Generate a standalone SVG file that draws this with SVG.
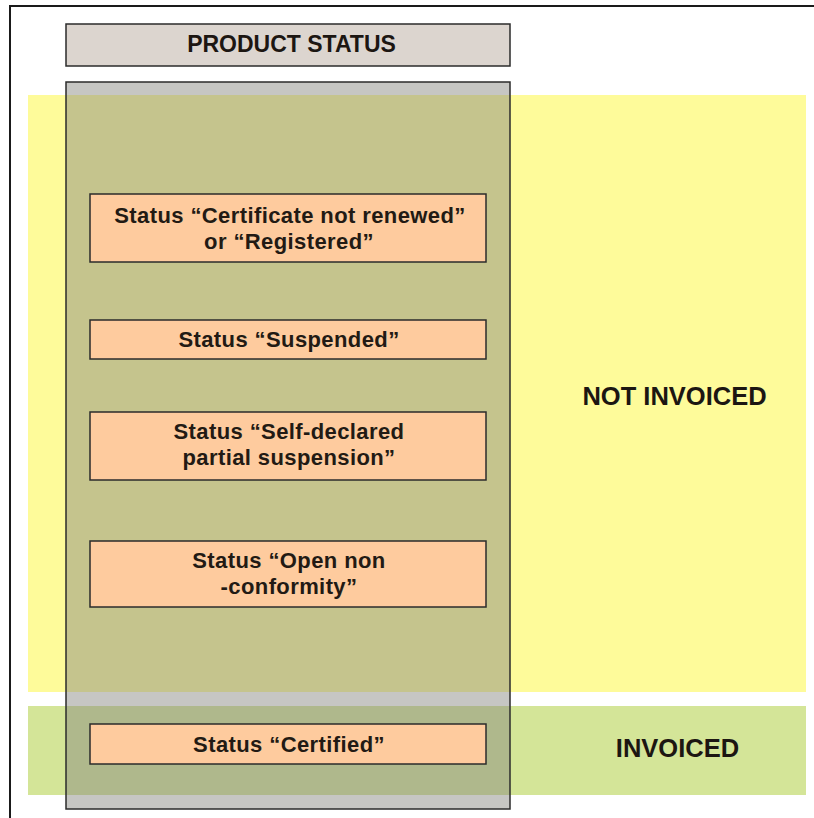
<svg xmlns="http://www.w3.org/2000/svg" width="814" height="818" viewBox="0 0 814 818">
  <style>
    .box { fill: #fecb9e; stroke: #2b2b2b; stroke-width: 1.5; }
    .lbl { font-family: "Liberation Sans", Arial, sans-serif; font-weight: bold; font-size: 22px; letter-spacing: 0.4px; fill: #221a14; text-anchor: middle; }
    .big { font-family: "Liberation Sans", Arial, sans-serif; font-weight: bold; font-size: 25.5px; fill: #1c1612; text-anchor: middle; }
  </style>
  <rect x="0" y="0" width="814" height="818" fill="#ffffff"/>
  <g id="frame">
    <path d="M10,818 V6 H814" fill="none" stroke="#1a1a1a" stroke-width="2"/>
  </g>
  <g id="band-not-invoiced">
    <rect x="28" y="95" width="778" height="597" fill="#fefb9a"/>
    <text class="big" x="674.5" y="405">NOT INVOICED</text>
  </g>
  <g id="band-invoiced">
    <rect x="28" y="706" width="778" height="89" fill="#d4e598"/>
    <text class="big" x="677.5" y="757">INVOICED</text>
  </g>
  <g id="product-status-header">
    <rect x="66" y="24" width="444" height="42" fill="#dcd5cf" stroke="#2b2b2b" stroke-width="1.5"/>
    <text x="291.5" y="52" font-family="'Liberation Sans', Arial, sans-serif" font-weight="bold" font-size="23" fill="#1c1612" text-anchor="middle">PRODUCT STATUS</text>
  </g>
  <g id="product-status-column">
    <rect x="66" y="82" width="444" height="727" fill="#85857f" fill-opacity="0.47" stroke="#2b2b2b" stroke-width="1.5"/>
  </g>
  <g id="connectors"></g>
  <g id="status-not-renewed">
    <rect class="box" x="90" y="194" width="396" height="68"/>
    <text class="lbl" x="290" y="223">Status “Certificate not renewed”</text>
    <text class="lbl" x="289" y="249">or “Registered”</text>
  </g>
  <g id="status-suspended">
    <rect class="box" x="90" y="320" width="396" height="39"/>
    <text class="lbl" x="289" y="347">Status “Suspended”</text>
  </g>
  <g id="status-self-declared">
    <rect class="box" x="90" y="412" width="396" height="68"/>
    <text class="lbl" x="289" y="439">Status “Self-declared</text>
    <text class="lbl" x="289" y="465">partial suspension”</text>
  </g>
  <g id="status-open-nc">
    <rect class="box" x="90" y="541" width="396" height="66"/>
    <text class="lbl" x="289" y="568">Status “Open non</text>
    <text class="lbl" x="289" y="594">-conformity”</text>
  </g>
  <g id="status-certified">
    <rect class="box" x="90" y="724" width="396" height="40"/>
    <text class="lbl" x="289" y="752">Status “Certified”</text>
  </g>
</svg>
